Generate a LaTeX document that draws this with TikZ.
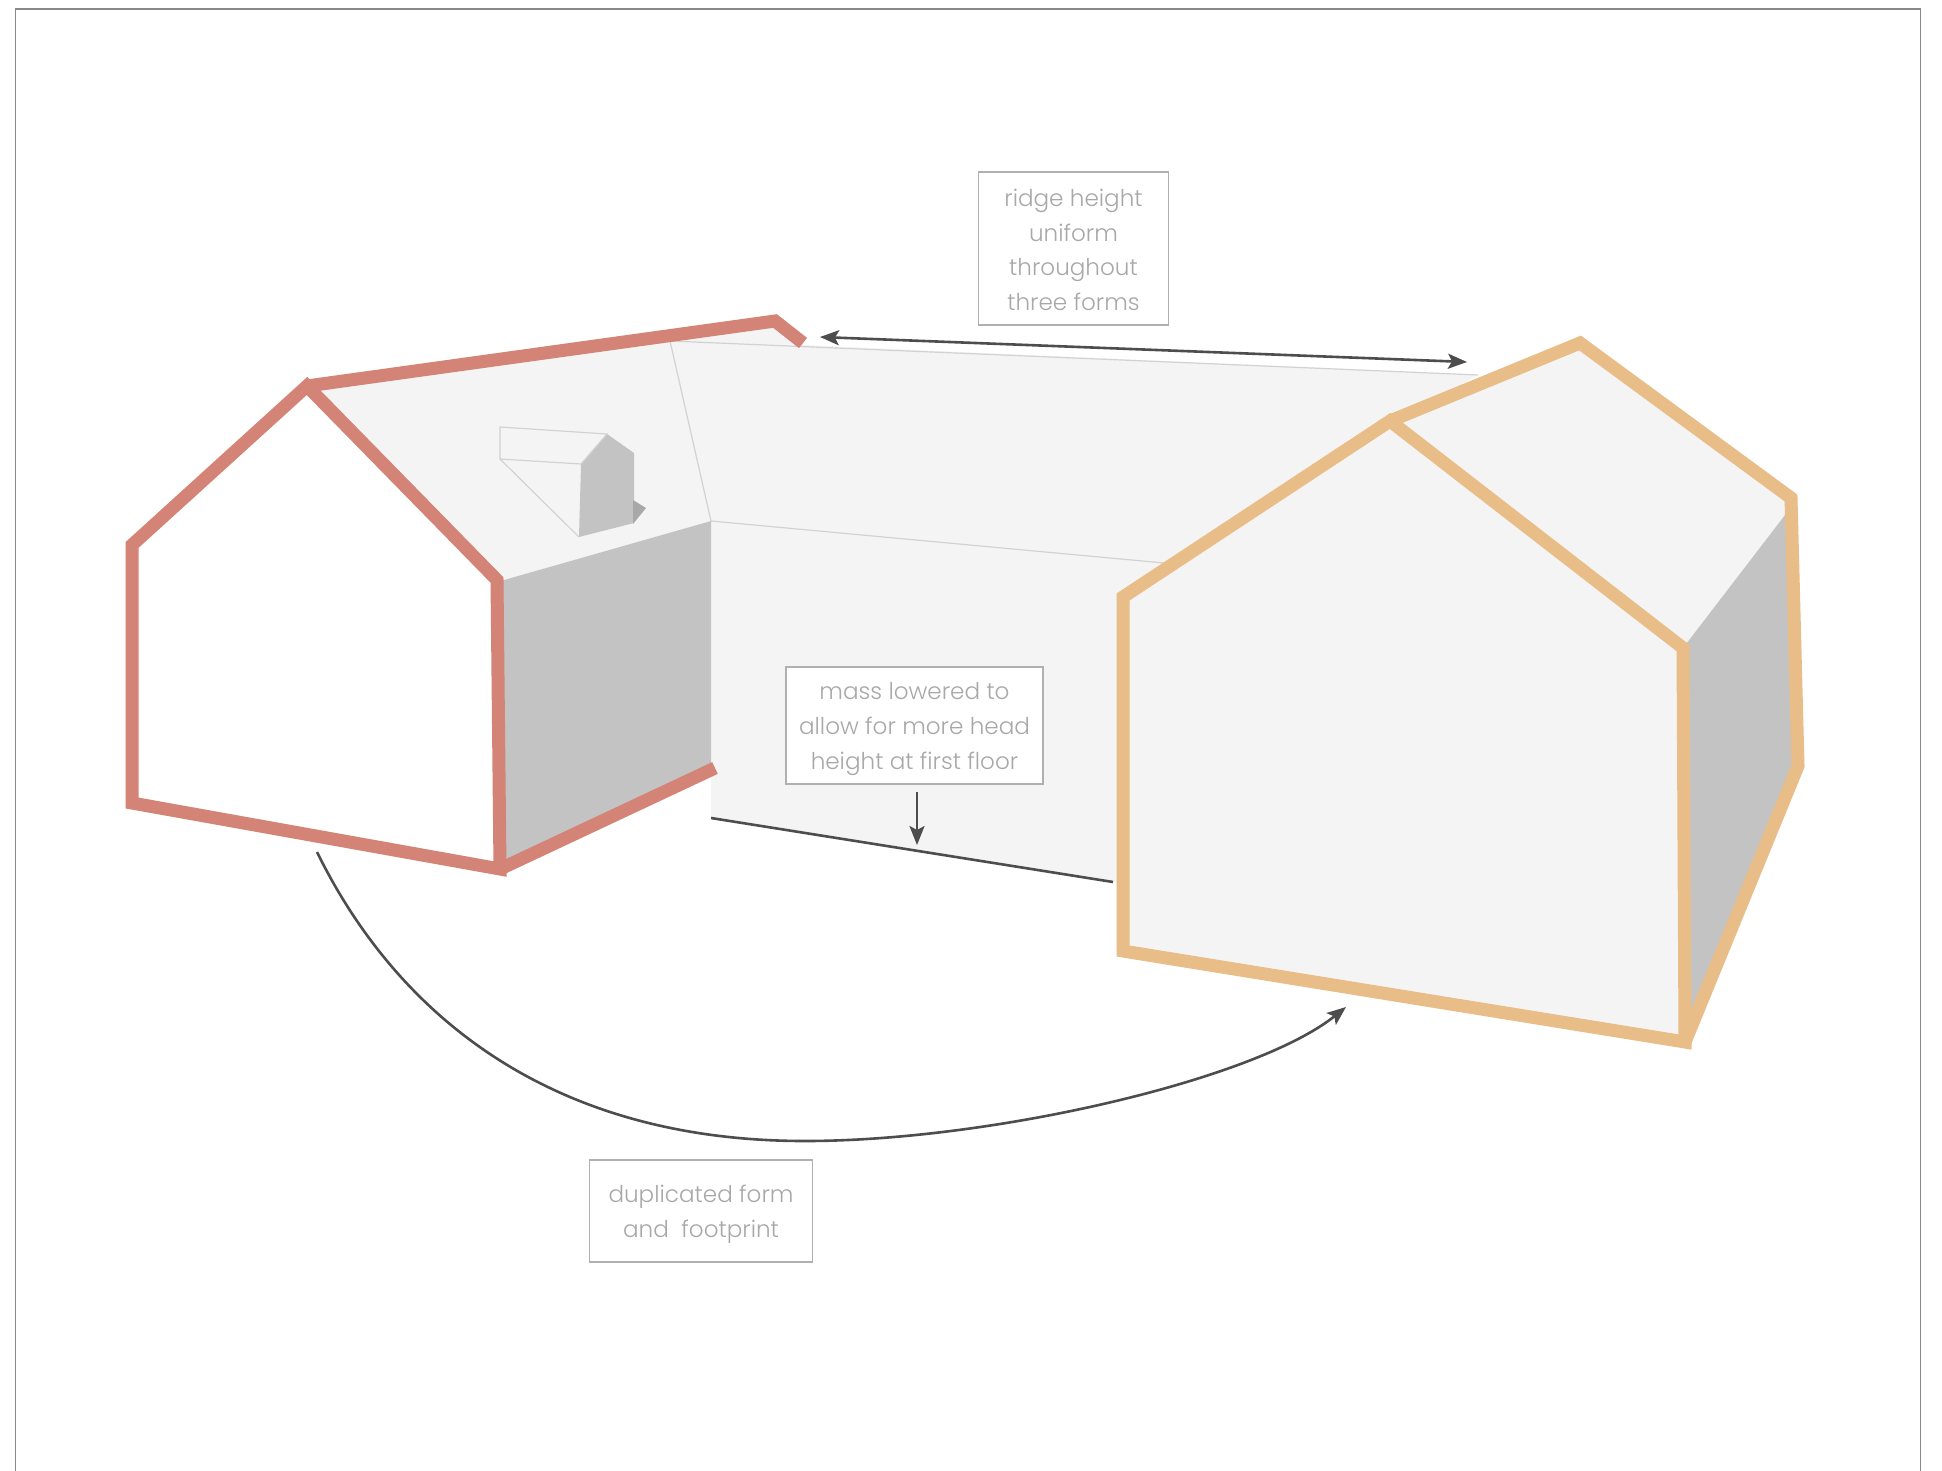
\documentclass[tikz,border=0pt]{standalone}
\usepackage{fontspec}
\setmainfont{Poppins}[UprightFont=* Light]
\usetikzlibrary{arrows.meta}
\definecolor{redline}{HTML}{D38476}
\definecolor{orangeline}{HTML}{E8BD88}
\definecolor{wallgrey}{HTML}{C3C3C3}
\definecolor{shadowgrey}{HTML}{A8A8A8}
\definecolor{lightface}{HTML}{F4F4F4}
\definecolor{thinline}{HTML}{D2D2D2}
\definecolor{darkline}{HTML}{4D4D4D}
\definecolor{labeltext}{HTML}{A8A8A8}
\definecolor{labelborder}{HTML}{B0B0B0}
\definecolor{framecol}{HTML}{8C8888}
\tikzset{
  redstroke/.style={draw=redline,line width=13pt,miter limit=10,line join=miter},
  orangestroke/.style={draw=orangeline,line width=13pt,miter limit=10,line join=miter},
  faint/.style={draw=thinline,line width=1.2pt},
  face/.style={fill=lightface},
  shade/.style={fill=wallgrey},
  arrowline/.style={draw=darkline,line width=2.6pt,-{Stealth[length=19pt,width=15pt,inset=4pt]}},
  doublearrow/.style={draw=darkline,line width=2.6pt,{Stealth[length=19pt,width=15pt,inset=4pt]}-{Stealth[length=19pt,width=15pt,inset=4pt]}},
  labelbox/.style={draw=labelborder,line width=1.2pt,fill=white,text=labeltext,font=\fontsize{23.1pt}{34.7pt}\selectfont,align=center,inner sep=0pt,anchor=center}
}
\begin{document}
\begin{tikzpicture}[x=1pt,y=-1pt]
\useasboundingbox (0,0) rectangle (1942,1471);
\fill[white] (0,0) rectangle (1942,1471);
% frame, open at the bottom
\draw[framecol,line width=1.5pt] (15.5,1471) -- (15.5,9) -- (1920.5,9) -- (1920.5,1471);

% middle mass
\fill[face] (670,341) -- (803,345) -- (1478,375) -- (1400,420) -- (1164,563) -- (1123,600) -- (1123,884) -- (1113,882) -- (711,818) -- (711,521) -- cycle;
\draw[faint] (711,521) -- (1164,563);
\coordinate (baseA) at (711,818);
\coordinate (baseB) at (1113,882);
\draw[draw=darkline,line width=2.6pt] (baseA) -- (baseB);

% left house
\fill[face] (307,386) -- (775,321) -- (711,521) -- (497,582) -- cycle;
\fill[face] (670,341) -- (775,321) -- (803,345) -- cycle;
\draw[faint] (670,341) -- (1478,375);
\draw[faint] (670,341) -- (711,521);
\fill[shade] (497,582) -- (711,521) -- (711,768) -- (500,869) -- cycle;
\fill[white] (132,545) -- (307,386) -- (497,580) -- (500,869) -- (132,803) -- cycle;

% dormer
\fill[shade] (581,464) -- (607,434) -- (634,453) -- (634,523) -- (579,537) -- cycle;
\fill[shadowgrey] (633,500) -- (646,508) -- (633,524) -- cycle;
\draw[faint] (581,464) -- (607,434) -- (500,427) -- (500,459) -- (581,464);
\draw[faint] (500,459) -- (579,537);

% red outlines
\draw[redstroke] (132,545) -- (307,386) -- (497,580) -- (500,869) -- (132,803) -- cycle;
\draw[redstroke] (307,386) -- (775,321) -- (803,343);
\draw[redstroke] (500,869) -- (715,768);

% right house
\fill[face] (1390,420) -- (1580,343) -- (1791,498) -- (1785,515) -- (1683,648) -- cycle;
\fill[shade] (1683,648) -- (1785,515) -- (1798,766) -- (1685,1042) -- cycle;
\fill[face] (1123,597) -- (1390,421) -- (1683,648) -- (1685,1042) -- (1123,951) -- cycle;
\draw[orangestroke] (1123,597) -- (1390,421) -- (1683,648) -- (1685,1042) -- (1123,951) -- cycle;
\draw[orangestroke] (1390,421) -- (1580,343) -- (1791,498) -- (1798,766) -- (1685,1042);

% labels
\node[labelbox,minimum width=189.5pt,minimum height=153pt] (ridgebox) at (1073.5,248.5) {\rule{0pt}{20pt}ridge height\\uniform\\throughout\\three forms};
\node[labelbox,minimum width=257pt,minimum height=117pt] (massbox) at (914.5,725.5) {\rule{0pt}{24pt}mass lowered to\\allow for more head\\height at first floor};
\node[labelbox,minimum width=222.5pt,minimum height=102pt] (dupbox) at (701,1211) {\rule{0pt}{24pt}duplicated form\\and\ \ footprint};

% arrows
\coordinate (ridgeL) at (820,337);
\coordinate (ridgeR) at (1467,362);
\draw[doublearrow] (ridgeL) -- (ridgeR);
\coordinate (massA) at (917,792);
\coordinate (massB) at (917,845);
\draw[arrowline] (massA) -- (massB);
\coordinate (dupA) at (317,852);
\coordinate (dupB) at (1346,1007);
\draw[arrowline] (dupA) .. controls (392,1005) and (540,1141) .. (805,1141) .. controls (991,1141) and (1255,1080) .. (dupB);
\end{tikzpicture}
\end{document}
